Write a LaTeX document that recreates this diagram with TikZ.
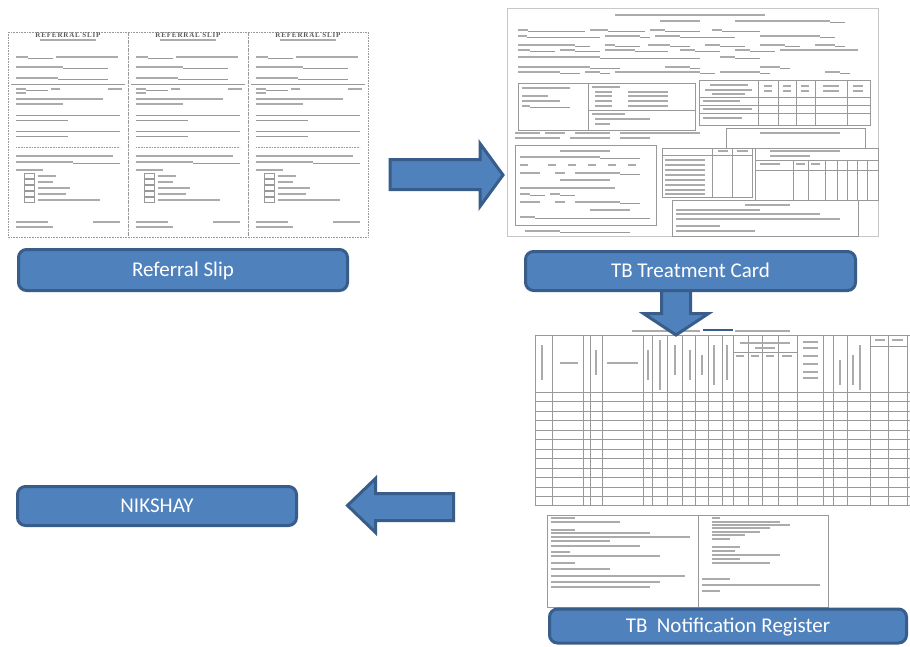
\documentclass[tikz,border=0pt]{standalone}
\usepackage{fontspec}
\setmainfont{Carlito}
\newfontfamily\formfont[LetterSpace=12]{Liberation Serif}
\definecolor{boxfill}{HTML}{4F81BD}
\definecolor{boxline}{HTML}{385D8A}
\newcommand\smd[3]{\draw[txt] (#2,#1) -- (#3,#1);}
\newcommand\fldx[4]{\draw[txt] (#2,#1) -- (#3,#1); \draw[frm] (#3,#1+1.5) -- (#4,#1+1.5);}
\begin{document}
\begin{tikzpicture}[x=1pt,y=-1pt,
  lbl/.style={draw=boxline, fill=boxfill, line width=3pt, rounded corners=8pt,
    text=white, font=\fontsize{21}{24}\selectfont, inner sep=0pt,
    text height=13.5pt, text depth=0pt},
  barrow/.style={draw=boxline, fill=boxfill, line width=3pt},
  frm/.style={draw=black!40, line width=0.6pt},
  txt/.style={draw=black!33, line width=1.6pt},
  stxt/.style={draw=black!33, line width=1.1pt}]
\useasboundingbox (0,0) rectangle (910,646);
\fill[white] (0,0) rectangle (910,646);

% ================= Referral slips =================
\foreach \cx in {8,128,248}{
  \draw[frm,densely dotted] (\cx,32) rectangle (\cx+120,237);
  \node[font=\formfont\bfseries\fontsize{7}{7}\selectfont, text=black!65, inner sep=0pt] at (\cx+60,35) {REFERRAL SLIP};
  \smd{40}{\cx+32}{\cx+88}
  \fldx{57}{\cx+8}{\cx+20}{\cx+45}
  \smd{57}{\cx+48}{\cx+110}
  \fldx{67}{\cx+8}{\cx+55}{\cx+100}
  \fldx{78}{\cx+8}{\cx+50}{\cx+100}
  \draw[frm] (\cx+3,84) -- (\cx+117,84);
  \fldx{89}{\cx+8}{\cx+18}{\cx+40}
  \smd{89}{\cx+43}{\cx+52}
  \smd{89}{\cx+100}{\cx+114}
  \smd{93}{\cx+8}{\cx+18}
  \smd{99}{\cx+8}{\cx+95}
  \smd{104}{\cx+8}{\cx+55}
  \draw[frm] (\cx+8,115) -- (\cx+112,115);
  \draw[frm] (\cx+8,120) -- (\cx+60,120);
  \draw[frm] (\cx+8,131) -- (\cx+112,131);
  \draw[frm] (\cx+8,136) -- (\cx+60,136);
  \draw[frm,densely dotted] (\cx+8,147) -- (\cx+112,147);
  \smd{156}{\cx+8}{\cx+105}
  \fldx{162}{\cx+8}{\cx+65}{\cx+112}
  \smd{170}{\cx+8}{\cx+35}
  \foreach \i/\l in {0/18,1/15,2/32,3/28,4/62}{
    \draw[frm] (\cx+16,176+6*\i-2.6) rectangle (\cx+26,176+6*\i+2.6);
    \smd{176+6*\i}{\cx+30}{\cx+30+\l}
  }
  \smd{222}{\cx+8}{\cx+40}
  \smd{222}{\cx+85}{\cx+112}
  \smd{227}{\cx+8}{\cx+45}
}

% ================= TB treatment card =================
\draw[draw=black!22, line width=0.5pt] (507,8) rectangle (878,236);
\smd{15}{615}{765}
\smd{21}{660}{700}
\fldx{21}{735}{830}{845}
\foreach \y/\a/\b/\c in {
  30/518/528/585, 30/590/608/645, 30/650/665/700, 30/712/722/760,
  36/518/527/600, 36/605/640/650, 36/655/680/735, 36/760/820/835,
  45/518/575/590, 45/605/615/640, 45/648/670/690, 45/705/720/745, 45/760/785/800, 45/815/835/845,
  50/518/530/555, 50/560/575/600, 50/605/635/668, 50/680/695/720, 50/735/750/775, 50/780/858/858,
  57/518/600/700, 57/720/735/760,
  67/518/590/620, 67/665/690/700, 67/760/780/790,
  72/518/560/580, 72/585/600/610, 72/615/700/715, 72/720/760/770, 72/825/840/850}
  {\fldx{\y}{\a}{\b}{\c}}
% box 1
\draw[frm] (518,83) rectangle (588,130);
\smd{88}{522}{570} \smd{96}{522}{548} \smd{101}{522}{560}
\fldx{106}{522}{530}{570}
% box 2
\draw[frm] (588,83) rectangle (695,130);
\draw[frm] (588,110) -- (695,110);
\smd{87}{592}{620}
\foreach \y in {92,96,101,106}{\smd{\y}{595}{612} \smd{\y}{628}{668}}
\smd{114}{592}{625} \smd{119}{595}{650} \smd{124}{595}{610}
% table 1
\draw[frm] (699,80) rectangle (870,125);
\foreach \x in {758,778,796,815,847}{\draw[frm] (\x,80) -- (\x,125);}
\foreach \y in {97,105,113}{\draw[frm] (699,\y) -- (870,\y);}
\smd{85}{710}{748} \smd{90}{705}{752} \smd{94}{712}{745}
\foreach \x/\w in {768/4,787/4,805/4,831/8,858/5}{\smd{86}{\x-\w}{\x+\w} \smd{91}{\x-\w}{\x+\w}}
\smd{101}{703}{740} \smd{109}{703}{752} \smd{118}{703}{742}
\smd{133}{515}{540} \smd{133}{545}{565} \smd{133}{575}{610} \smd{133}{620}{700}
\smd{138}{515}{560} \smd{138}{570}{610} \smd{138}{620}{650}
% other box
\draw[frm] (726,128) rectangle (865,148);
\smd{133}{760}{840}
% contact box
\draw[frm] (515,145) rectangle (656,225);
\smd{151}{560}{610}
\fldx{157}{520}{600}{640}
\foreach \x in {520,548,568,588,608,628}{\smd{165}{\x}{\x+8}}
\smd{173}{520}{540} \smd{173}{555}{565} \fldx{173}{575}{620}{640}
\smd{180}{560}{610}
\smd{188}{520}{615}
\fldx{194}{520}{530}{545} \fldx{194}{550}{560}{575}
\smd{202}{520}{540} \smd{202}{555}{565} \fldx{202}{575}{620}{640}
\smd{210}{590}{630}
\fldx{217}{520}{535}{650}
% middle table
\draw[frm] (662,148) rectangle (752,197);
\foreach \x in {712,732}{\draw[frm] (\x,148) -- (\x,197);}
\draw[frm] (662,155) -- (752,155);
\smd{151}{718}{728} \smd{151}{737}{748}
\foreach \y in {160,165,170,175,180,185,190,194}{\smd{\y}{665}{705}}
% right table
\draw[frm] (755,148) rectangle (878,200);
\draw[frm] (755,160) -- (878,160);
\foreach \x in {793,808,825,837,847,857,867}{\draw[frm] (\x,160) -- (\x,200);}
\draw[frm] (755,170) -- (878,170);
\smd{151}{770}{840} \smd{156}{770}{810}
\smd{164}{760}{780} \smd{164}{796}{805} \smd{164}{811}{820}
% bottom box
\draw[frm] (672,200) rectangle (858,236);
\smd{205}{745}{790}
\smd{210}{676}{760} \smd{214}{676}{820} \smd{219}{676}{840}
\smd{226}{676}{720} \smd{231}{676}{755}
\fldx{231}{525}{560}{630}

% ================= TB notification register =================
\smd{331}{632}{700} \smd{331}{735}{790}
\draw[boxline, line width=1.2pt] (703,330) -- (733,330);
\draw[frm] (535,335) -- (910,335);
\foreach \x in {535,552,583,590,602,643,652,667,682,695,708,722,733,748,762,778,797,823,833,847,870,888,907}
  {\draw[frm] (\x,335) -- (\x,505);}
\draw[frm] (733,352) -- (797,352);
\draw[frm] (870,346) -- (907,346);
\foreach \y in {392,401.5,411,420.5,430,439.5,449,458.5,468,477.5,487,496.5,505}
  {\draw[frm] (535,\y) -- (910,\y);}
\foreach \x/\a/\b in {542/345/380,596/350/375,648/350/380,660/340/390,675/345/375,690/350/380,702/355/375,714/345/385,727/345/380,840/360/385,853/355/385,860/345/390}
  {\draw[stxt] (\x,\a) -- (\x,\b);}
\smd{363}{560}{578} \smd{363}{607}{638}
\smd{343}{740}{790} \smd{348}{755}{775}
\foreach \x/\w in {740/4,755/4,770/4,787/5}{\smd{356}{\x-\w}{\x+\w}}
\foreach \y in {342,348,356,364,372,378}{\smd{\y}{803}{818}}
\smd{340}{875}{885} \smd{340}{892}{903}
% notes box
\draw[frm] (547,515) rectangle (828,607);
\draw[frm] (698,515) -- (698,607);
\foreach \y/\b in {518/575,522/620,530/575,533/650,537/690,541/610,546/640,552/570,556/660,563/575,569/610,576/685,582/660,587/650}
  {\draw[stxt] (551,\y) -- (\b,\y);}
\foreach \y/\b in {518/720,522/780,525/790,528/770,532/760,535/745,539/730,543/712,547/740,551/735,555/780,559/740,563/770,567/712}
  {\draw[stxt] (712,\y) -- (\b,\y);}
\draw[stxt] (702,579) -- (730,579);
\draw[stxt] (702,585) -- (820,585);
\draw[stxt] (702,591) -- (720,591);

% ================= arrows =================
\draw[barrow] (390,159.5) -- (480,159.5) -- (480,143.5) -- (503,175) -- (480,206.5) -- (480,189.5) -- (390,189.5) -- cycle;
\draw[barrow] (661.5,286) -- (661.5,313.5) -- (643.5,313.5) -- (676,335) -- (708.5,313.5) -- (690.5,313.5) -- (690.5,286) -- cycle;
\draw[barrow] (453.5,493.5) -- (375.5,493.5) -- (375.5,478.5) -- (347.5,505.5) -- (375.5,532.5) -- (375.5,520.5) -- (453.5,520.5) -- cycle;

% ================= labels =================
\node[lbl, minimum width=329pt, minimum height=41pt] (ref) at (183,270) {Referral Slip};
\node[lbl, minimum width=330pt, minimum height=39pt] (card) at (690.5,271) {TB Treatment Card};
\node[lbl, minimum width=279pt, minimum height=39pt] (nik) at (157,506) {NIKSHAY};
\node[lbl, minimum width=357pt, minimum height=34pt] (reg) at (728,626) {TB\ \ Notification Register};
\end{tikzpicture}
\end{document}
